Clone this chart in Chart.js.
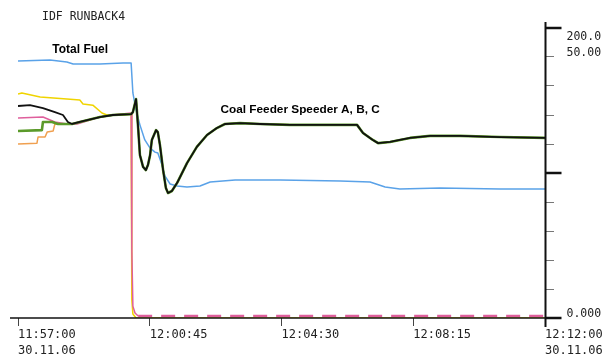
<!DOCTYPE html>
<html>
<head>
<meta charset="utf-8">
<script src="https://cdn.jsdelivr.net/npm/chart.js@4.4.1/dist/chart.umd.min.js"></script>
<style>
  html, body { margin: 0; padding: 0; background: #fff; }
  #wrap { width: 612px; height: 359px; }
</style>
</head>
<body>
<div id="wrap"><canvas id="runbackChart" width="612" height="359"></canvas></div>
<script>
// time = minutes after 11:57:00, value = % of the trend window height
const timeLabels = ['11:57:00', '12:00:45', '12:04:30', '12:08:15', '12:12:00'];
const dateLabel = '30.11.06';
const topScaleLabels = ['200.0', '50.00'];
const bottomScaleLabel = '0.000';

const fuelTime = [0, 0.91, 1.39, 1.57, 2.33, 2.99, 3.22, 3.27, 3.36, 3.47, 3.61, 3.76, 3.90, 3.98, 4.10,
  4.18, 4.33, 4.53, 4.81, 5.18, 5.47, 6.18, 7.46, 9.17, 10.02, 10.45, 10.87, 12.01, 13.72, 15.0];
const fuelValue = [88.6, 89.0, 88.3, 87.6, 87.6, 87.9, 87.9, 77.6, 71.7, 66.6, 61.4, 58.6, 57.2, 56.9, 52.8,
  49.0, 46.2, 45.5, 45.2, 45.5, 46.9, 47.6, 47.6, 47.2, 46.9, 45.2, 44.5, 44.8, 44.5, 44.5];

// common trace of the running feeders once they come together
const feederTime = [1.54, 1.76, 2.33, 2.70, 3.22, 3.27, 3.36, 3.42, 3.47, 3.56, 3.64, 3.70, 3.76, 3.81, 3.93,
  3.98, 4.04, 4.13, 4.21, 4.27, 4.38, 4.53, 4.81, 5.09, 5.38, 5.66, 5.89, 6.32, 6.89, 7.74,
  8.88, 9.65, 9.82, 10.10, 10.25, 10.59, 10.87, 11.16, 11.73, 12.58, 13.72, 15.0];
const feederValue = [66.9, 67.6, 69.3, 70.0, 70.3, 71.0, 75.5, 65.5, 56.2, 52.1, 51.0, 52.8, 56.2, 61.4, 64.8,
  64.1, 59.7, 51.0, 44.8, 43.1, 43.8, 46.6, 53.4, 59.0, 63.1, 65.5, 66.9, 67.2, 66.9, 66.6,
  66.6, 66.6, 63.8, 61.4, 60.3, 60.7, 61.4, 62.1, 62.8, 62.8, 62.4, 62.1];

const blackStartTime = [0, 0.34, 0.71, 1.05, 1.28, 1.42];
const blackStartValue = [73.1, 73.4, 72.4, 71.0, 70.0, 67.6];
const greenStartTime = [0, 0.68, 0.71, 0.97, 1.14];
const greenStartValue = [64.5, 64.8, 67.6, 67.6, 66.9];
const orangeStartTime = [0, 0.54, 0.57, 0.77, 0.83, 1.0, 1.05];
const orangeStartValue = [60.0, 60.3, 62.4, 62.4, 64.1, 64.5, 66.9];

const yellowTime = [0, 0.11, 0.63, 1.39, 1.76, 1.85, 2.13, 2.39, 2.53, 3.19, 3.22, 3.24, 3.27, 3.36, 15.0];
const yellowValue = [77.2, 77.6, 76.2, 75.5, 75.2, 73.8, 73.4, 70.7, 70.0, 70.3, 70.3, 6.2, 1.4, 0.0, 0.0];
const pinkTime = [0, 0.71, 1.05, 1.39, 1.68, 2.33, 2.70, 3.22, 3.24, 3.27, 3.33, 3.42, 15.0];
const pinkValue = [69.0, 69.3, 67.6, 66.9, 66.9, 69.3, 70.0, 70.7, 23.4, 4.1, 1.7, 0.7, 0.7];

function toPoints(times, values) {
  return times.map((t, i) => ({ x: t, y: values[i] }));
}

const feederPoints = toPoints(feederTime, feederValue);
const monoFont = "'DejaVu Sans Mono', monospace";

const trendOverlay = {
  id: 'trendOverlay',
  afterDatasetsDraw(chart) {
    const { ctx, scales: { x, y } } = chart;
    const right = x.getPixelForValue(15) + 0.5;
    const zeroY = y.getPixelForValue(0);
    const topY = y.getPixelForValue(100);
    ctx.save();
    ctx.strokeStyle = '#111';

    // time axis line and value axis line
    ctx.lineWidth = 1.5;
    ctx.beginPath(); ctx.moveTo(10, zeroY); ctx.lineTo(right, zeroY); ctx.stroke();
    ctx.lineWidth = 2;
    ctx.beginPath(); ctx.moveTo(right, topY - 6); ctx.lineTo(right, zeroY + 9); ctx.stroke();

    // heavy ticks at 0, 50 and 100 %
    ctx.lineWidth = 2.5;
    [0, 50, 100].forEach(v => {
      const py = y.getPixelForValue(v);
      ctx.beginPath(); ctx.moveTo(right, py); ctx.lineTo(right + 16, py); ctx.stroke();
    });

    // scale labels
    ctx.fillStyle = '#222';
    ctx.font = '11.5px ' + monoFont;
    ctx.textAlign = 'left';
    ctx.textBaseline = 'middle';
    ctx.fillText(topScaleLabels[0], right + 21, topY + 9.5);
    ctx.fillText(topScaleLabels[1], right + 21, topY + 25.5);
    ctx.fillText(bottomScaleLabel, right + 21, zeroY - 4);

    // title
    ctx.fillText('IDF RUNBACK4', 42, 17);

    // trace annotations
    ctx.fillStyle = '#000';
    ctx.textAlign = 'center';
    ctx.font = "bold 12px 'Liberation Sans', Arial, sans-serif";
    ctx.fillText('Total Fuel', x.getPixelForValue(1.77), y.getPixelForValue(92.4));
    ctx.font = "bold 11.8px 'Liberation Sans', Arial, sans-serif";
    ctx.fillText('Coal Feeder Speeder A, B, C', x.getPixelForValue(8.03), y.getPixelForValue(71.7));
    ctx.restore();
  }
};

document.addEventListener('DOMContentLoaded', () => {
  const canvas = document.getElementById('runbackChart');
  new Chart(canvas, {
    type: 'line',
    data: {
      datasets: [
        {
          label: 'Coal Feeder Speed',
          data: toPoints(blackStartTime, blackStartValue).concat(feederPoints),
          borderColor: '#111111',
          borderWidth: 1.8,
        },
        {
          label: 'Coal Feeder B',
          data: toPoints(greenStartTime, greenStartValue).concat(feederPoints),
          borderColor: '#5b9a2a',
          borderWidth: 2.6,
        },
        {
          label: 'Total Fuel',
          data: toPoints(fuelTime, fuelValue),
          borderColor: '#5aa2e8',
          borderWidth: 1.5,
        },
        {
          label: 'Coal Feeder D',
          data: toPoints(pinkTime, pinkValue),
          borderColor: '#df5f9c',
          borderWidth: 1.5,
          segment: {
            borderDash: c => (c.p0.parsed.x >= 3.4 ? [14, 9] : undefined),
            borderWidth: c => (c.p0.parsed.x >= 3.4 ? 2.5 : undefined),
          },
        },
        {
          label: 'Coal Feeder E',
          data: toPoints(yellowTime, yellowValue),
          borderColor: '#f0d400',
          borderWidth: 1.5,
        },
        {
          label: 'Coal Feeder C',
          data: toPoints(orangeStartTime, orangeStartValue).concat(feederPoints),
          borderColor: '#f0a050',
          borderWidth: 1.5,
        },
      ],
    },
    options: {
      responsive: false,
      animation: false,
      devicePixelRatio: 1,
      layout: { padding: { left: 18, top: 28, right: 0, bottom: 0 } },
      elements: {
        point: { radius: 0 },
        line: { tension: 0, fill: false, borderJoinStyle: 'round' },
      },
      plugins: {
        legend: { display: false },
        tooltip: { enabled: false },
      },
      scales: {
        x: {
          type: 'linear',
          min: 0,
          max: 15,
          border: { display: false },
          grid: { drawOnChartArea: false, drawTicks: true, tickLength: 8, color: '#444' },
          ticks: {
            stepSize: 3.75,
            autoSkip: false,
            maxRotation: 0,
            align: 'start',
            padding: 1,
            color: '#222',
            font: { family: monoFont, size: 12, lineHeight: 1.3 },
            callback: (v, i, ticks) => {
              if (i === 0 || i === ticks.length - 1) return [timeLabels[i], dateLabel];
              return timeLabels[i];
            },
          },
          afterFit: scale => { scale.height = 41; },
        },
        y: {
          position: 'right',
          min: 0,
          max: 100,
          border: { display: false },
          grid: { drawOnChartArea: false, drawTicks: true, tickLength: 9, color: '#777' },
          ticks: { stepSize: 10, callback: () => '' },
          afterFit: scale => { scale.width = 67; },
        },
      },
    },
    plugins: [trendOverlay],
  });
});
</script>
</body>
</html>
